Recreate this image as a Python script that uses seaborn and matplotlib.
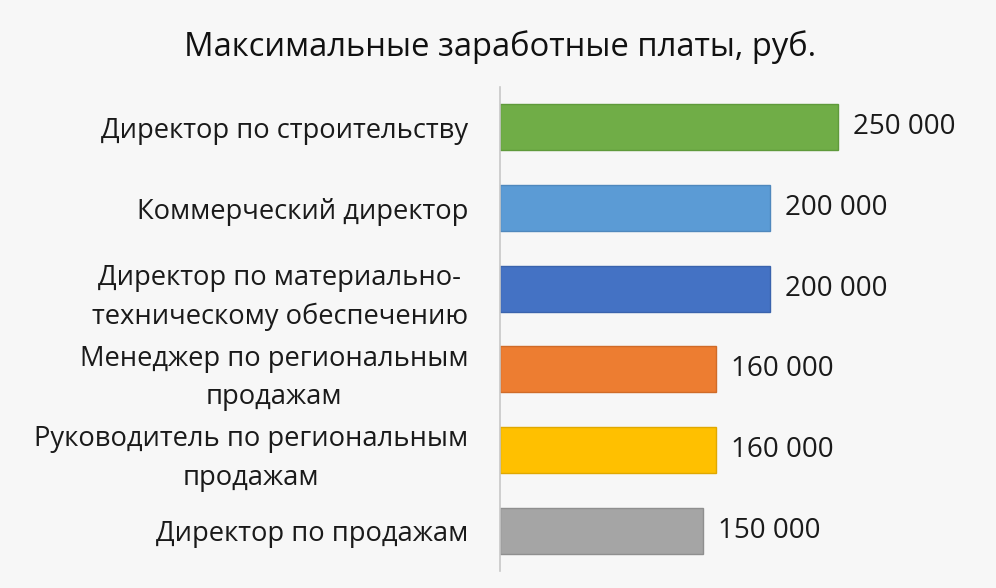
import matplotlib
matplotlib.use("Agg")
import matplotlib.pyplot as plt
import seaborn as sns
import pandas as pd

categories = [
    "Директор по строительству",
    "Коммерческий директор",
    "Директор по материально-\nтехническому обеспечению",
    "Менеджер по региональным\nпродажам",
    "Руководитель по региональным\nпродажам",
    "Директор по продажам",
]
salaries = [250000, 200000, 200000, 160000, 160000, 150000]
value_labels = ["250 000", "200 000", "200 000", "160 000", "160 000", "150 000"]
colors = ["#70AD47", "#5B9BD5", "#4472C4", "#ED7D31", "#FFC000", "#A5A5A5"]
edge_colors = ["#5f9a3b", "#4f88bd", "#3a63ad", "#d06b28", "#e0a800", "#8f8f8f"]
title = "Максимальные заработные платы, руб."

sns.set_theme(style="white")
plt.rcParams["font.family"] = ["Open Sans", "DejaVu Sans"]

df = pd.DataFrame({"cat": categories, "val": salaries})

fig = plt.figure(figsize=(9.96, 5.88), dpi=100, facecolor="#f7f7f7")
ax = fig.add_axes([0.502, 0.029, 0.407, 0.823])
ax.set_facecolor("#f7f7f7")

sns.barplot(data=df, y="cat", x="val", hue="cat", palette=colors, legend=False,
            width=0.57, ax=ax, orient="h", saturation=1)
for patch, ec in zip(ax.patches, edge_colors):
    patch.set_edgecolor(ec)
    patch.set_linewidth(1.0)

for i, (v, lab) in enumerate(zip(salaries, value_labels)):
    ax.text(v + 11000, i, lab, va="center", ha="left", fontsize=20, color="#1a1a1a")

ax.set_xlim(0, 300000)
ax.set_ylim(5.5, -0.5)
ax.set_xlabel("")
ax.set_ylabel("")
ax.set_xticks([])
ax.tick_params(axis="y", length=0, pad=23, labelsize=19.7, labelcolor="#1a1a1a")
for lbl in ax.get_yticklabels():
    lbl.set_linespacing(1.48)
    lbl.set_multialignment("center")
for s in ["top", "right", "bottom"]:
    ax.spines[s].set_visible(False)
ax.spines["left"].set_color("#c8c8c8")
ax.spines["left"].set_linewidth(1.2)

fig.text(0.502, 0.92, title, ha="center", va="center", fontsize=23.6, color="#111111")

fig.savefig("out.png", dpi=100, facecolor=fig.get_facecolor())
